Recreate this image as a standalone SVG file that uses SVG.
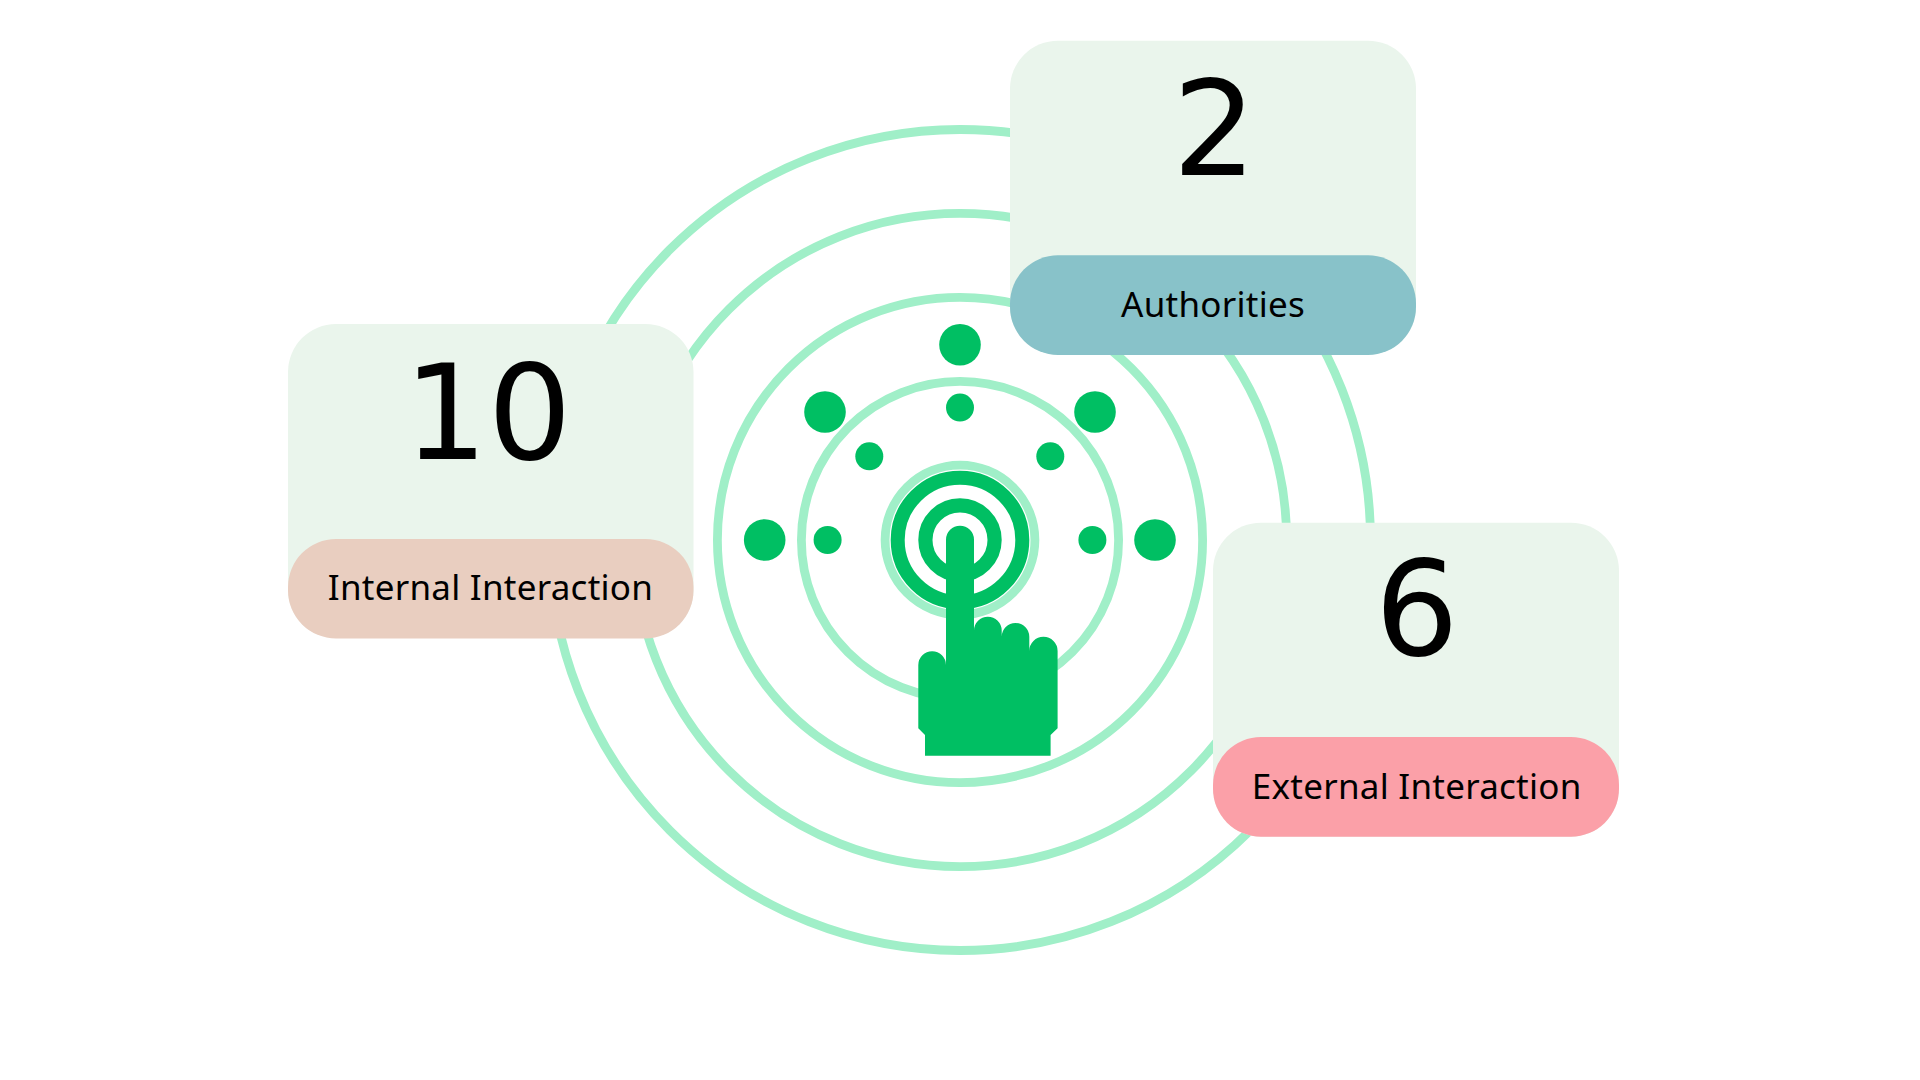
<svg xmlns="http://www.w3.org/2000/svg" width="1920" height="1080" viewBox="0 0 1920 1080">
<style>
.ring{fill:none;stroke:#a0efc8;stroke-width:8.8}
.g{fill:#00bf63}
.gr{fill:none;stroke:#00bf63}
.card{fill:#eaf5ec}
.num{font-family:"DejaVu Sans",sans-serif;font-size:132px;text-anchor:middle;fill:#000}
.lab{font-family:"Noto Sans",sans-serif;font-size:35px;letter-spacing:.25px;text-anchor:middle;fill:#000}
</style>
<rect width="1920" height="1080" fill="#fff"/>
<g id="connectors">
<circle class="ring" cx="960" cy="540" r="410.5"/>
<circle class="ring" cx="960" cy="540" r="326.6"/>
<circle class="ring" cx="960" cy="540" r="242.6"/>
<circle class="ring" cx="960" cy="540" r="158.6"/>
<circle class="ring" cx="960" cy="540" r="74.9"/>
</g>
<g id="dots">
<circle class="g" cx="960" cy="344.7" r="20.8"/>
<circle class="g" cx="825" cy="412" r="20.8"/>
<circle class="g" cx="1095" cy="412" r="20.8"/>
<circle class="g" cx="764.7" cy="540" r="20.8"/>
<circle class="g" cx="1155" cy="540" r="20.8"/>
<circle class="g" cx="960" cy="407.6" r="14"/>
<circle class="g" cx="869.3" cy="456.3" r="14"/>
<circle class="g" cx="1050.3" cy="456.3" r="14"/>
<circle class="g" cx="827.6" cy="540" r="14"/>
<circle class="g" cx="1092.4" cy="540" r="14"/>
</g>
<g id="hand">
<circle class="gr" cx="960" cy="540" r="62.3" stroke-width="14"/>
<circle class="gr" cx="960" cy="540" r="34.6" stroke-width="14.2"/>
<path class="g" d="M946 539.7A14 14 0 0 1 974 539.7V630.5A13.85 13.85 0 0 1 1001.7 630.5V636.8A13.8 13.8 0 0 1 1029.3 636.8V651A14 14 0 0 1 1057.6 651V728.3L1050.6 735V755.7H925V735L918.3 728.3V665A13.85 13.85 0 0 1 946 665Z"/>
</g>
<g id="card-internal">
<rect class="card" x="288" y="324" width="405.5" height="314" rx="48"/>
<rect x="288" y="539" width="405.5" height="99.5" rx="48" fill="#e9cec0"/>
<text class="num" x="487.8" y="458.7">10</text>
<text class="lab" x="490.5" y="600">Internal Interaction</text>
</g>
<g id="card-authorities">
<rect class="card" x="1010" y="40.7" width="406" height="314" rx="48"/>
<rect x="1010" y="255.3" width="406" height="99.7" rx="48" fill="#88c2c9"/>
<text class="num" x="1214.4" y="175">2</text>
<text class="lab" x="1213" y="317">Authorities</text>
</g>
<g id="card-external">
<rect class="card" x="1213" y="522.7" width="406" height="314" rx="48"/>
<rect x="1213" y="737" width="406" height="99.7" rx="48" fill="#fba0a8"/>
<text class="num" x="1416.7" y="655">6</text>
<text class="lab" x="1416.7" y="799.3">External Interaction</text>
</g>
</svg>
